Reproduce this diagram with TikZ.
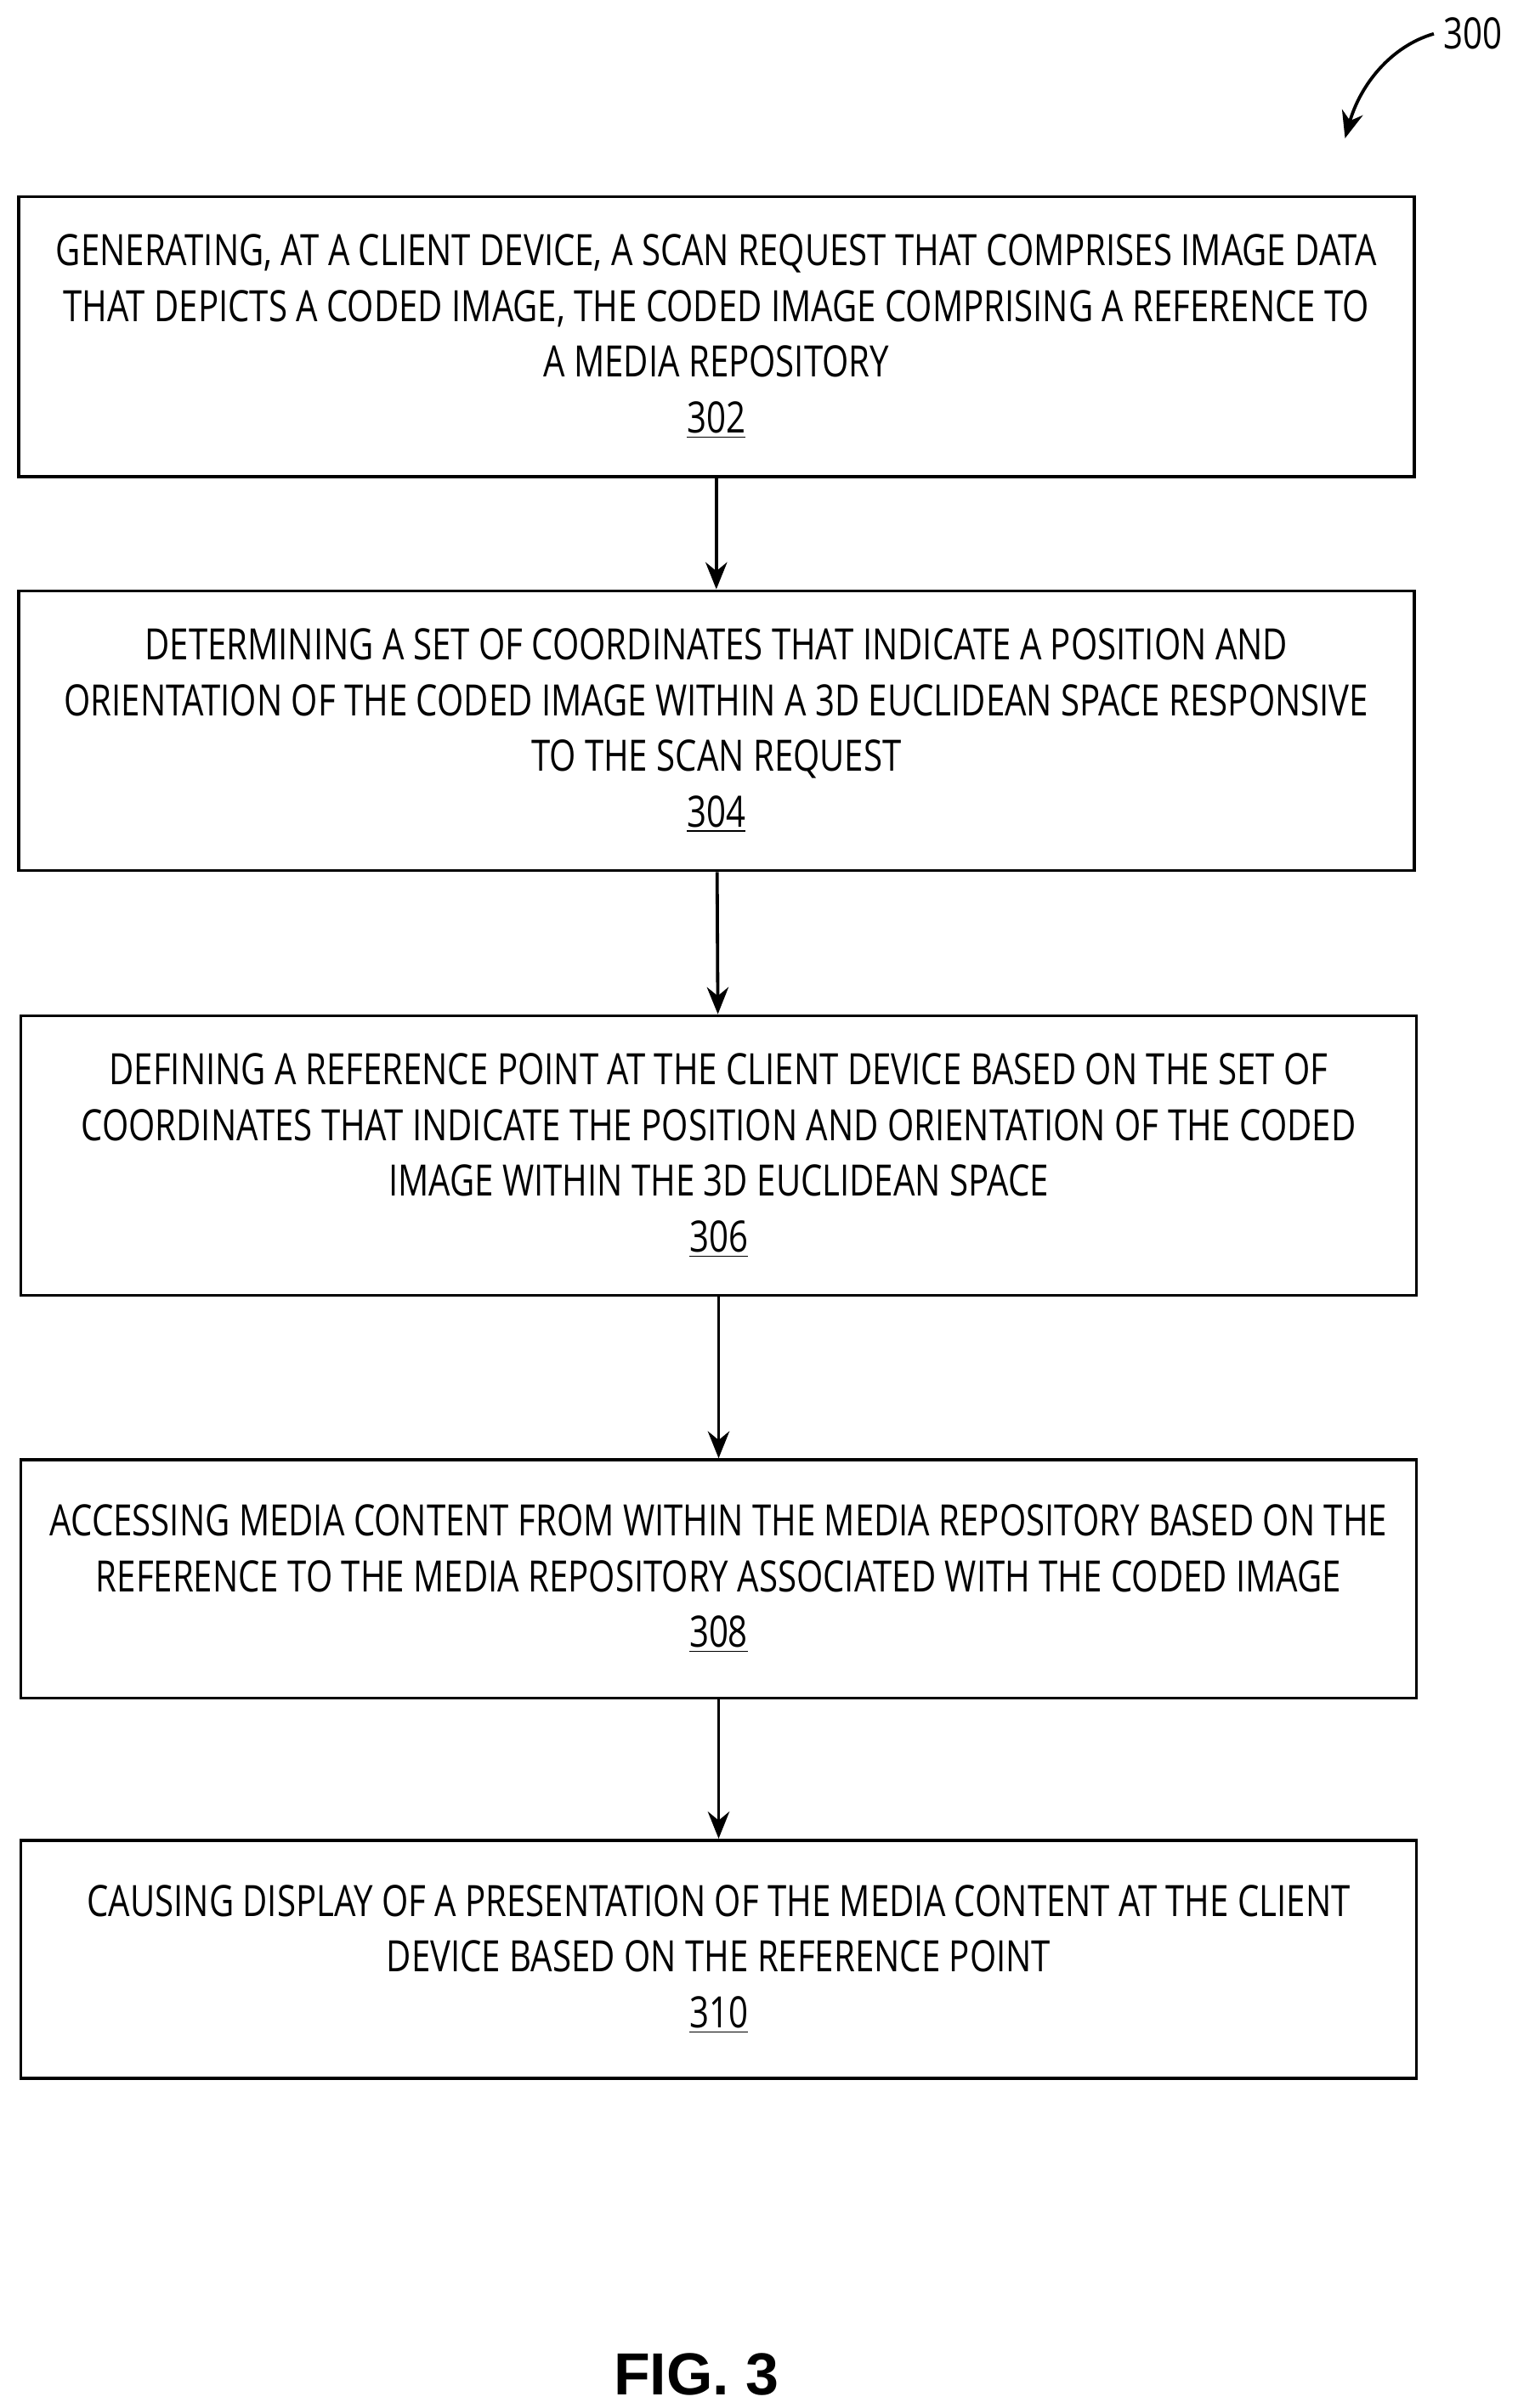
\documentclass[tikz,border=0pt]{standalone}
\usepackage{fontspec}
\setmainfont{Open Sans}[FakeStretch=0.79]
\newfontfamily\figfont{Liberation Sans}
\usetikzlibrary{arrows.meta,positioning}
\begin{document}
\begin{tikzpicture}[x=0.02cm,y=-0.02cm,
	stepbox/.style={draw,line width=1.2pt,minimum width=18.16cm,minimum height=3.64cm,align=center,font=\fontsize{16pt}{20.6pt}\selectfont,inner sep=0pt},
	flow/.style={-{Stealth[length=10pt,width=8pt]},line width=1.2pt}]
	\useasboundingbox (0,0) rectangle (987,1567);
	\node[stepbox] (s302) at (466,219) {GENERATING, AT A CLIENT DEVICE, A SCAN REQUEST THAT COMPRISES IMAGE DATA\\THAT DEPICTS A CODED IMAGE, THE CODED IMAGE COMPRISING A REFERENCE TO\\A MEDIA REPOSITORY\\\underline{302}};
	\node[stepbox] (s304) at (466,475.5) {DETERMINING A SET OF COORDINATES THAT INDICATE A POSITION AND\\ORIENTATION OF THE CODED IMAGE WITHIN A 3D EUCLIDEAN SPACE RESPONSIVE\\TO THE SCAN REQUEST\\\underline{304}};
	\node[stepbox] (s306) at (467.5,752) {DEFINING A REFERENCE POINT AT THE CLIENT DEVICE BASED ON THE SET OF\\COORDINATES THAT INDICATE THE POSITION AND ORIENTATION OF THE CODED\\IMAGE WITHIN THE 3D EUCLIDEAN SPACE\\\underline{306}};
	\node[stepbox,minimum height=3.1cm] (s308) at (467.5,1027.5) {ACCESSING MEDIA CONTENT FROM WITHIN THE MEDIA REPOSITORY BASED ON THE\\REFERENCE TO THE MEDIA REPOSITORY ASSOCIATED WITH THE CODED IMAGE\\\underline{308}};
	\node[stepbox,minimum height=3.1cm] (s310) at (467.5,1275) {CAUSING DISPLAY OF A PRESENTATION OF THE MEDIA CONTENT AT THE CLIENT\\DEVICE BASED ON THE REFERENCE POINT\\\underline{310}};
	\draw[flow] (s302) -- (s304);
	\draw[flow] (s304) -- (s306);
	\draw[flow] (s306) -- (s308);
	\draw[flow] (s308) -- (s310);
	% figure reference
	\node[font=\fontsize{16pt}{18pt}\selectfont] (ref) at (958,22) {300};
	\coordinate (tip) at (875,90);
	\draw[flow] (ref.west) .. controls (905,30) and (885,55) .. (tip);
	\node[font=\figfont\bfseries\fontsize{22pt}{24pt}\selectfont] (cap) at (453,1545) {FIG. 3};
\end{tikzpicture}
\end{document}
